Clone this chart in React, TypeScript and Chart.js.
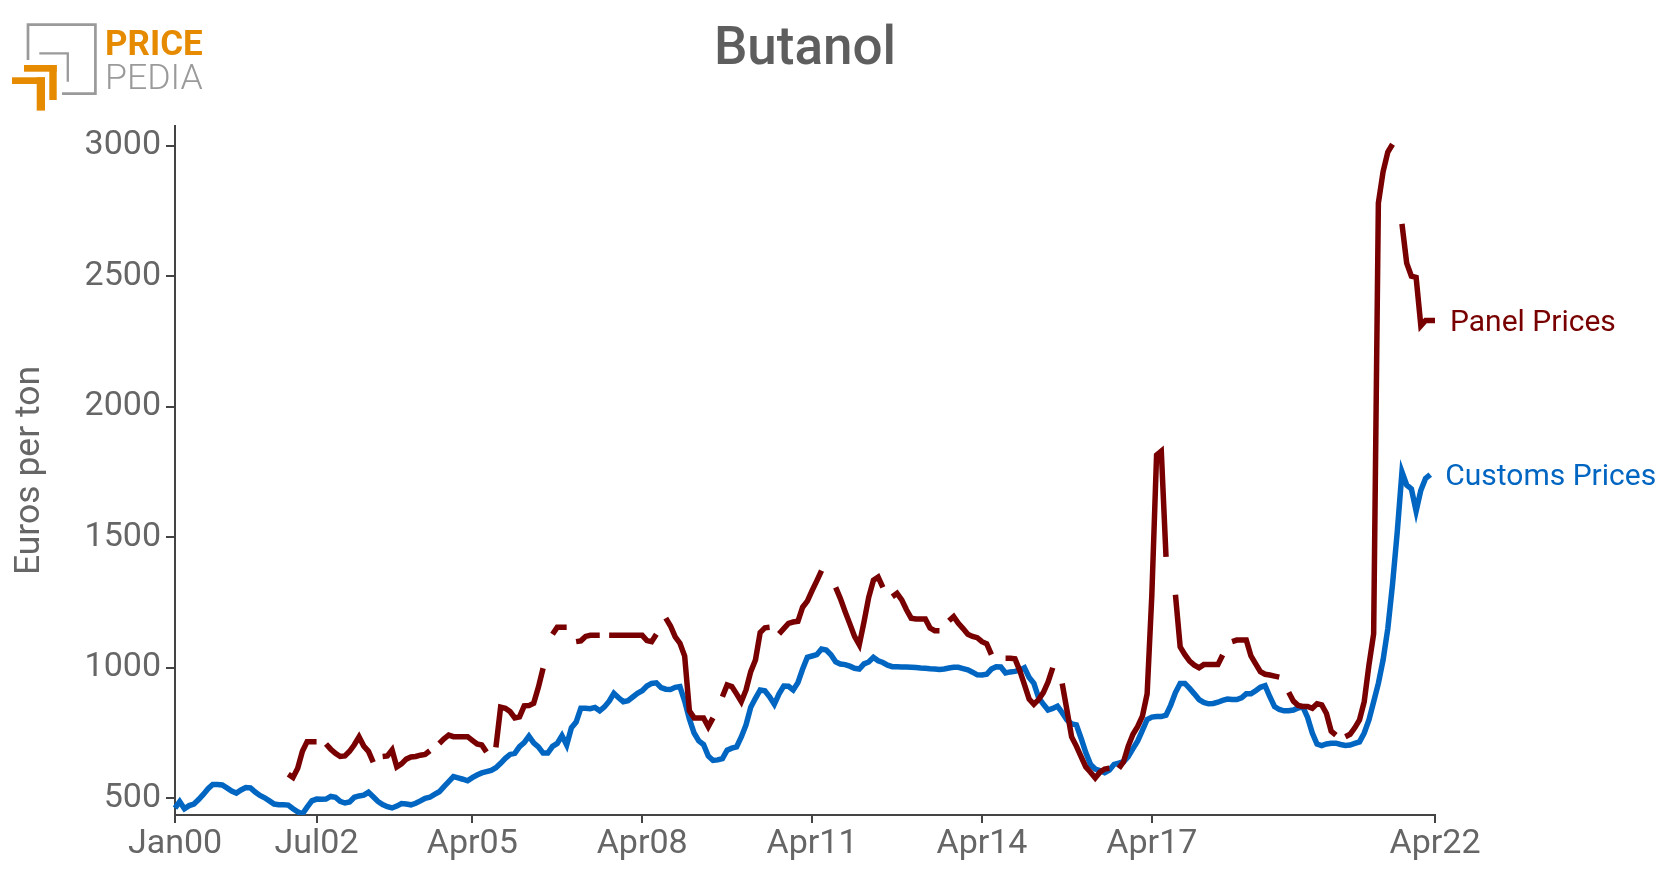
import React, { useEffect, useRef } from 'react';
import { Chart, registerables } from 'chart.js';

Chart.register(...registerables);

const MONTH_NAMES = ['Jan', 'Feb', 'Mar', 'Apr', 'May', 'Jun', 'Jul', 'Aug', 'Sep', 'Oct', 'Nov', 'Dec'];
// monthly categories Jan00 .. Apr22
const MONTHS: string[] = Array.from({ length: 268 }, (_, i) =>
  MONTH_NAMES[i % 12] + String(Math.floor(i / 12)).padStart(2, '0')
);

const X_TICK_LABELS = ['Jan00', 'Jul02', 'Apr05', 'Apr08', 'Apr11', 'Apr14', 'Apr17', 'Apr22'];
const Y_TICK_VALUES = [500, 1000, 1500, 2000, 2500, 3000];
const Y_MIN = 436;
const Y_MAX = 3075;

const TITLE = 'Butanol';
const Y_TITLE = 'Euros per ton';

// Euros per ton, one row per year (Jan..Dec)
const CUSTOMS_PRICES: (number | null)[] = [
  462, 487, 460, 472, 478, 495, 515, 537, 553, 553, 551, 540,
  528, 520, 532, 541, 540, 524, 511, 502, 490, 478, 475, 475,
  474, 460, 448, 440, 466, 490, 497, 496, 497, 507, 504, 488,
  482, 486, 504, 509, 512, 523, 506, 488, 476, 468, 463, 470,
  480, 478, 475, 481, 490, 500, 504, 515, 525, 545, 564, 583,
  578, 573, 567, 579, 589, 597, 602, 607, 617, 634, 653, 668,
  672, 698, 713, 738, 712, 697, 673, 673, 699, 710, 740, 704,
  770, 792, 845, 845, 843, 848, 835, 850, 872, 902, 885, 870,
  874, 888, 902, 912, 930, 940, 942, 924, 918, 917, 925, 928,
  872, 804, 750, 720, 706, 662, 645, 647, 652, 684, 692, 697,
  735, 781, 849, 883, 915, 912, 889, 860, 900, 930, 929, 915,
  943, 995, 1040, 1045, 1050, 1072, 1068, 1050, 1023, 1014, 1012, 1006,
  998, 995, 1015, 1022, 1040, 1027, 1020, 1010, 1004, 1004, 1003, 1003,
  1002, 1001, 999, 998, 996, 995, 993, 995, 999, 1002, 1002, 997,
  992, 983, 973, 972, 975, 995, 1004, 1003, 980, 984, 986, 991,
  1000, 963, 940, 885, 861, 838, 844, 853, 828, 800, 785, 781,
  730, 675, 630, 612, 606, 598, 608, 630, 635, 640, 660, 690,
  720, 760, 802, 811, 813, 813, 818, 857, 905, 940, 940, 921,
  900, 878, 867, 862, 863, 868, 875, 880, 878, 878, 885, 900,
  900, 912, 925, 931, 889, 851, 840, 835, 835, 838, 846, 850,
  810, 750, 708, 702, 708, 711, 711, 706, 702, 704, 710, 716,
  750, 800, 870, 940, 1030, 1150, 1320, 1520, 1750, 1700, 1685, 1600,
  1680, 1725, 1740, null,
];

const PANEL_PRICES: (number | null)[] = [
  null, null, null, null, null, null, null, null, null, null, null, null,
  null, null, null, null, null, null, null, null, null, null, null, null,
  592, 580, 615, 680, 717, 717, 717, null, 708, 688, 672, 660,
  662, 680, 705, 735, 700, 680, 638, null, 660, 662, 685, 620,
  632, 650, 658, 660, 665, 668, 682, null, 710, 728, 742, 736,
  736, 736, 736, 722, 708, 704, 677, null, 695, 849, 845, 832,
  808, 812, 854, 855, 864, 925, 998, null, 1128, 1155, 1155, 1155,
  null, 1100, 1103, 1120, 1124, 1124, 1124, null, 1124, 1124, 1124, 1124,
  1124, 1124, 1124, 1124, 1104, 1100, 1128, null, 1190, 1160, 1118, 1094,
  1045, 835, 808, 808, 808, 774, 808, null, 889, 934, 928, 900,
  870, 915, 985, 1030, 1135, 1153, 1155, null, 1130, 1150, 1170, 1175,
  1178, 1232, 1255, 1295, 1333, 1372, null, null, 1308, 1265, 1215, 1168,
  1120, 1088, 1175, 1270, 1335, 1347, 1308, null, 1272, 1285, 1260, 1222,
  1190, 1187, 1187, 1187, 1152, 1142, 1142, null, 1180, 1196, 1170, 1150,
  1128, 1120, 1115, 1100, 1092, 1050, null, null, 1036, 1036, 1034, 990,
  935, 880, 860, 878, 905, 945, 1000, null, 940, 838, 735, 700,
  660, 620, 600, 578, 600, 612, 615, null, 615, 640, 700, 745,
  775, 815, 900, 1280, 1815, 1830, 1425, null, 1280, 1080, 1050, 1025,
  1010, 1000, 1012, 1012, 1012, 1012, 1049, null, 1100, 1106, 1106, 1106,
  1045, 1015, 985, 975, 972, 968, 964, null, 906, 872, 856, 852,
  852, 845, 862, 858, 825, 757, 742, null, 736, 745, 770, 800,
  870, 1010, 1130, 2780, 2900, 2975, 3005, null, 2700, 2550, 2500, 2495,
  2310, 2330, 2330, 2330,
];

const PANEL_COLOR = '#780000';
const CUSTOMS_COLOR = '#0066c2';
const AXIS_COLOR = '#444444';
const TEXT_COLOR = '#666666';
const FONT = 'Roboto, "Open Sans", sans-serif';

const overlayPlugin = {
  id: 'overlay',
  afterDatasetsDraw(chart: any) {
    const { ctx, chartArea } = chart;
    ctx.save();
    ctx.font = `500 53px ${FONT}`;
    ctx.fillStyle = '#5e5e5e';
    ctx.textAlign = 'center';
    ctx.textBaseline = 'alphabetic';
    ctx.fillText(TITLE, (chartArea.left + chartArea.right) / 2, 64);

    chart.data.datasets.forEach((ds: any, i: number) => {
      const meta = chart.getDatasetMeta(i);
      let idx = ds.data.length - 1;
      while (idx >= 0 && ds.data[idx] == null) idx--;
      if (idx < 0) return;
      const pt = meta.data[idx];
      ctx.font = `30px ${FONT}`;
      ctx.fillStyle = ds.borderColor;
      ctx.textAlign = 'left';
      ctx.textBaseline = 'middle';
      ctx.fillText(ds.label, pt.x + 15, pt.y + 3);
    });
    ctx.restore();
  },
};

function Logo() {
  const orange = '#e68a00';
  const gray = '#9a9a9a';
  return (
    <svg width={220} height={120} style={{ position: 'absolute', left: 0, top: 0 }}>
      <path d="M 28 60 V 24.7 H 95.4 V 93.7 H 62" fill="none" stroke={gray} strokeWidth={2.7} />
      <path d="M 39.3 53.3 H 67.8 V 81.7" fill="none" stroke={gray} strokeWidth={2.3} />
      <rect x={24} y={65} width={32.7} height={6.7} fill={orange} />
      <rect x={49.3} y={65} width={7.4} height={35} fill={orange} />
      <rect x={12} y={77.3} width={33} height={6.7} fill={orange} />
      <rect x={36.7} y={77.3} width={8.3} height={33.3} fill={orange} />
      <text x={105} y={55} fontFamily="Roboto, sans-serif" fontWeight={700} fontSize={35}
        fill={orange} textLength={97.7} lengthAdjust="spacingAndGlyphs">PRICE</text>
      <text x={105} y={89.3} fontFamily="Roboto, sans-serif" fontWeight={300} fontSize={35}
        fill={gray} textLength={97.7} lengthAdjust="spacingAndGlyphs">PEDIA</text>
    </svg>
  );
}

export default function App() {
  const canvasRef = useRef<HTMLCanvasElement | null>(null);

  useEffect(() => {
    if (!canvasRef.current) return;
    const chart = new Chart(canvasRef.current, {
      type: 'line',
      data: {
        labels: MONTHS,
        datasets: [
          {
            label: 'Panel Prices',
            data: PANEL_PRICES,
            borderColor: PANEL_COLOR,
            backgroundColor: PANEL_COLOR,
            borderWidth: 5.5,
            pointRadius: 0,
            tension: 0,
            spanGaps: false,
            fill: false,
          },
          {
            label: 'Customs Prices',
            data: CUSTOMS_PRICES,
            borderColor: CUSTOMS_COLOR,
            backgroundColor: CUSTOMS_COLOR,
            borderWidth: 5.5,
            pointRadius: 0,
            tension: 0,
            spanGaps: false,
            fill: false,
          },
        ],
      },
      options: {
        responsive: false,
        animation: false,
        layout: { padding: { left: 0, right: 244, top: 126, bottom: 0 } },
        plugins: {
          legend: { display: false },
          title: { display: false },
          tooltip: { enabled: false },
        },
        scales: {
          x: {
            type: 'category',
            offset: false,
            afterBuildTicks: (scale: any) => {
              scale.ticks = scale.ticks.filter((t: any) => X_TICK_LABELS.includes(MONTHS[t.value]));
            },
            afterFit: (scale: any) => {
              scale.height = 57;
            },
            ticks: {
              autoSkip: false,
              maxRotation: 0,
              minRotation: 0,
              padding: 1,
              color: TEXT_COLOR,
              font: { family: FONT, size: 34 },
            },
            grid: {
              display: true,
              drawOnChartArea: false,
              drawTicks: true,
              tickLength: 8,
              color: AXIS_COLOR,
              lineWidth: 2,
            },
            border: { display: true, color: AXIS_COLOR, width: 2 },
          },
          y: {
            type: 'linear',
            min: Y_MIN,
            max: Y_MAX,
            afterBuildTicks: (scale: any) => {
              scale.ticks = Y_TICK_VALUES.map((v) => ({ value: v }));
            },
            afterFit: (scale: any) => {
              scale.width = 175;
            },
            ticks: {
              padding: 5,
              color: TEXT_COLOR,
              font: { family: FONT, size: 34 },
              callback: (v: any) => String(v),
            },
            grid: {
              display: true,
              drawOnChartArea: false,
              drawTicks: true,
              tickLength: 9,
              color: AXIS_COLOR,
              lineWidth: 2,
            },
            border: { display: true, color: AXIS_COLOR, width: 2 },
            title: {
              display: true,
              text: Y_TITLE,
              color: TEXT_COLOR,
              font: { family: FONT, size: 35.5 },
              padding: { top: 9, bottom: 0 },
            },
          },
        },
      },
      plugins: [overlayPlugin],
    });
    return () => chart.destroy();
  }, []);

  return (
    <div style={{ position: 'fixed', left: 0, top: 0, width: 1679, height: 872, background: '#ffffff' }}>
      <canvas ref={canvasRef} width={1679} height={872} style={{ position: 'absolute', left: 0, top: 0 }} />
      <Logo />
    </div>
  );
}
